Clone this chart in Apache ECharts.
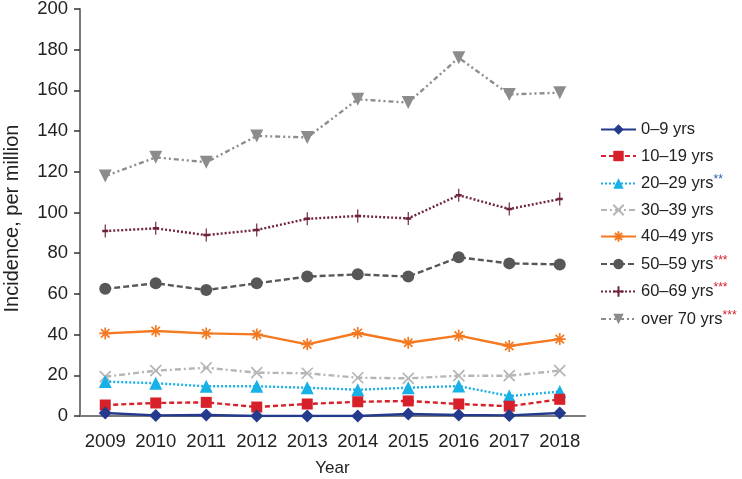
<!DOCTYPE html>
<html><head><meta charset="utf-8">
<script src="https://cdn.jsdelivr.net/npm/echarts@6/dist/echarts.min.js"></script>
<style>html,body{margin:0;padding:0;background:#fff}#c{width:742px;height:479px}</style>
</head><body><div id="c"></div>
<script>
const years = ['2009','2010','2011','2012','2013','2014','2015','2016','2017','2018'];
const yTicks = [0,20,40,60,80,100,120,140,160,180,200];
const seriesNames = ['0–9 yrs','10–19 yrs','20–29 yrs**','30–39 yrs','40–49 yrs','50–59 yrs***','60–69 yrs***','over 70 yrs***'];
const age0_9   = [1.5, 0.3, 0.5, 0, 0, 0, 1, 0.5, 0.3, 1.5];
const age10_19 = [5.4, 6.4, 6.7, 4.4, 5.9, 7.0, 7.4, 5.9, 4.8, 8.2];
const age20_29 = [16.9, 16.1, 14.6, 14.6, 13.9, 12.9, 13.9, 14.7, 9.8, 12.0];
const age30_39 = [19.3, 22.3, 23.7, 21.3, 21.0, 18.8, 18.5, 19.8, 19.8, 22.3];
const age40_49 = [40.6, 41.8, 40.6, 40.1, 35.2, 40.8, 36.0, 39.5, 34.4, 37.8];
const age50_59 = [62.5, 65.2, 61.9, 65.2, 68.5, 69.6, 68.5, 78.0, 75.0, 74.5];
const age60_69 = [90.9, 92.2, 88.9, 91.4, 96.9, 98.3, 97.1, 108.5, 101.7, 106.6];
const age70p   = [117.9, 127.1, 124.7, 137.6, 136.9, 155.6, 154.0, 176.0, 158.0, 158.9];

const values = [age0_9, age10_19, age20_29, age30_39, age40_49, age50_59, age60_69, age70p];
const styles = [
  {color:'#243a8c', type:'solid', symbol:'diamond', size:13},
  {color:'#d7202a', type:[5,3], symbol:'rect', size:11},
  {color:'#17b1e8', type:[2,2], symbol:'triangle', size:13},
  {color:'#b5b5b5', type:[6,3,2,3], symbol:'path://M0,0L10,10M10,0L0,10', size:11},
  {color:'#f47920', type:'solid', symbol:'path://M5,0L5,10M0,5L10,5M1.5,1.5L8.5,8.5M8.5,1.5L1.5,8.5', size:12},
  {color:'#575757', type:[6,3], symbol:'circle', size:12},
  {color:'#6e2338', type:[2,2], symbol:'path://M5,0L5,10M3,5L7,5', size:[6,13]},
  {color:'#8c8c8c', type:[5,3,2,3,2,3], symbol:'triangle', size:13, rotate:180}
];
const stroked = [3,4,6];
const starColors = {'20–29 yrs**':'#2a5aa8'};

const series = seriesNames.map((n,i)=>{
  const s = styles[i];
  const o = {
    name:n, type:'line', data:values[i], symbol:s.symbol, symbolSize:s.size,
    symbolRotate:s.rotate||0,
    lineStyle:{color:s.color, width:2.4, type:s.type},
    itemStyle:{color:s.color},
    z: 10-i
  };
  if (stroked.includes(i)) {
    o.itemStyle = {color:s.color, borderColor:s.color, borderWidth:1.7};
  }
  return o;
});

const chart = echarts.init(document.getElementById('c'));
chart.setOption({
  animation:false,
  textStyle:{fontFamily:'Liberation Sans, Arial, sans-serif'},
  grid:{left:80, right:157, top:9, bottom:63, containLabel:false, outerBoundsMode:'none'},
  xAxis:{
    type:'category', data:years, boundaryGap:true,
    name:'Year', nameLocation:'middle', nameGap:44,
    nameTextStyle:{fontSize:17, color:'#222'},
    axisLine:{lineStyle:{color:'#7a7a7a', width:2}},
    axisTick:{alignWithLabel:true, length:5, lineStyle:{color:'#333', width:1.5}},
    axisLabel:{fontSize:18.5, color:'#222', margin:16, interval:0}
  },
  yAxis:{
    type:'value', min:yTicks[0], max:yTicks[yTicks.length-1], interval:20,
    name:'Incidence, per million', nameLocation:'middle', nameGap:58,
    nameTextStyle:{fontSize:20, color:'#222', padding:[0,12,0,0]},
    axisLine:{show:true, lineStyle:{color:'#7a7a7a', width:2}},
    axisTick:{show:true, length:6, lineStyle:{color:'#333', width:1.5}},
    axisLabel:{fontSize:18.5, color:'#222', margin:12},
    splitLine:{show:false}
  },
  legend:{
    orient:'vertical', left:595, top:116, itemGap:9.5,
    itemWidth:35, itemHeight:13,
    data:seriesNames,
    textStyle:{fontSize:16.5, color:'#222',
      rich:{a:{fontSize:16.5, color:'#222'},
            s:{fontSize:12, color:'#d7202a', verticalAlign:'top', padding:[0,0,7,0]},
            b:{fontSize:12, color:'#2a5aa8', verticalAlign:'top', padding:[0,0,7,0]}}},
    formatter:function(n){
      const m = n.match(/^(.*?)(\*+)$/);
      if (m) return '{a|'+m[1]+'}{'+(starColors[n]?'b':'s')+'|'+m[2]+'}';
      return '{a|'+n+'}';
    }
  },
  series:series
});
</script></body></html>
